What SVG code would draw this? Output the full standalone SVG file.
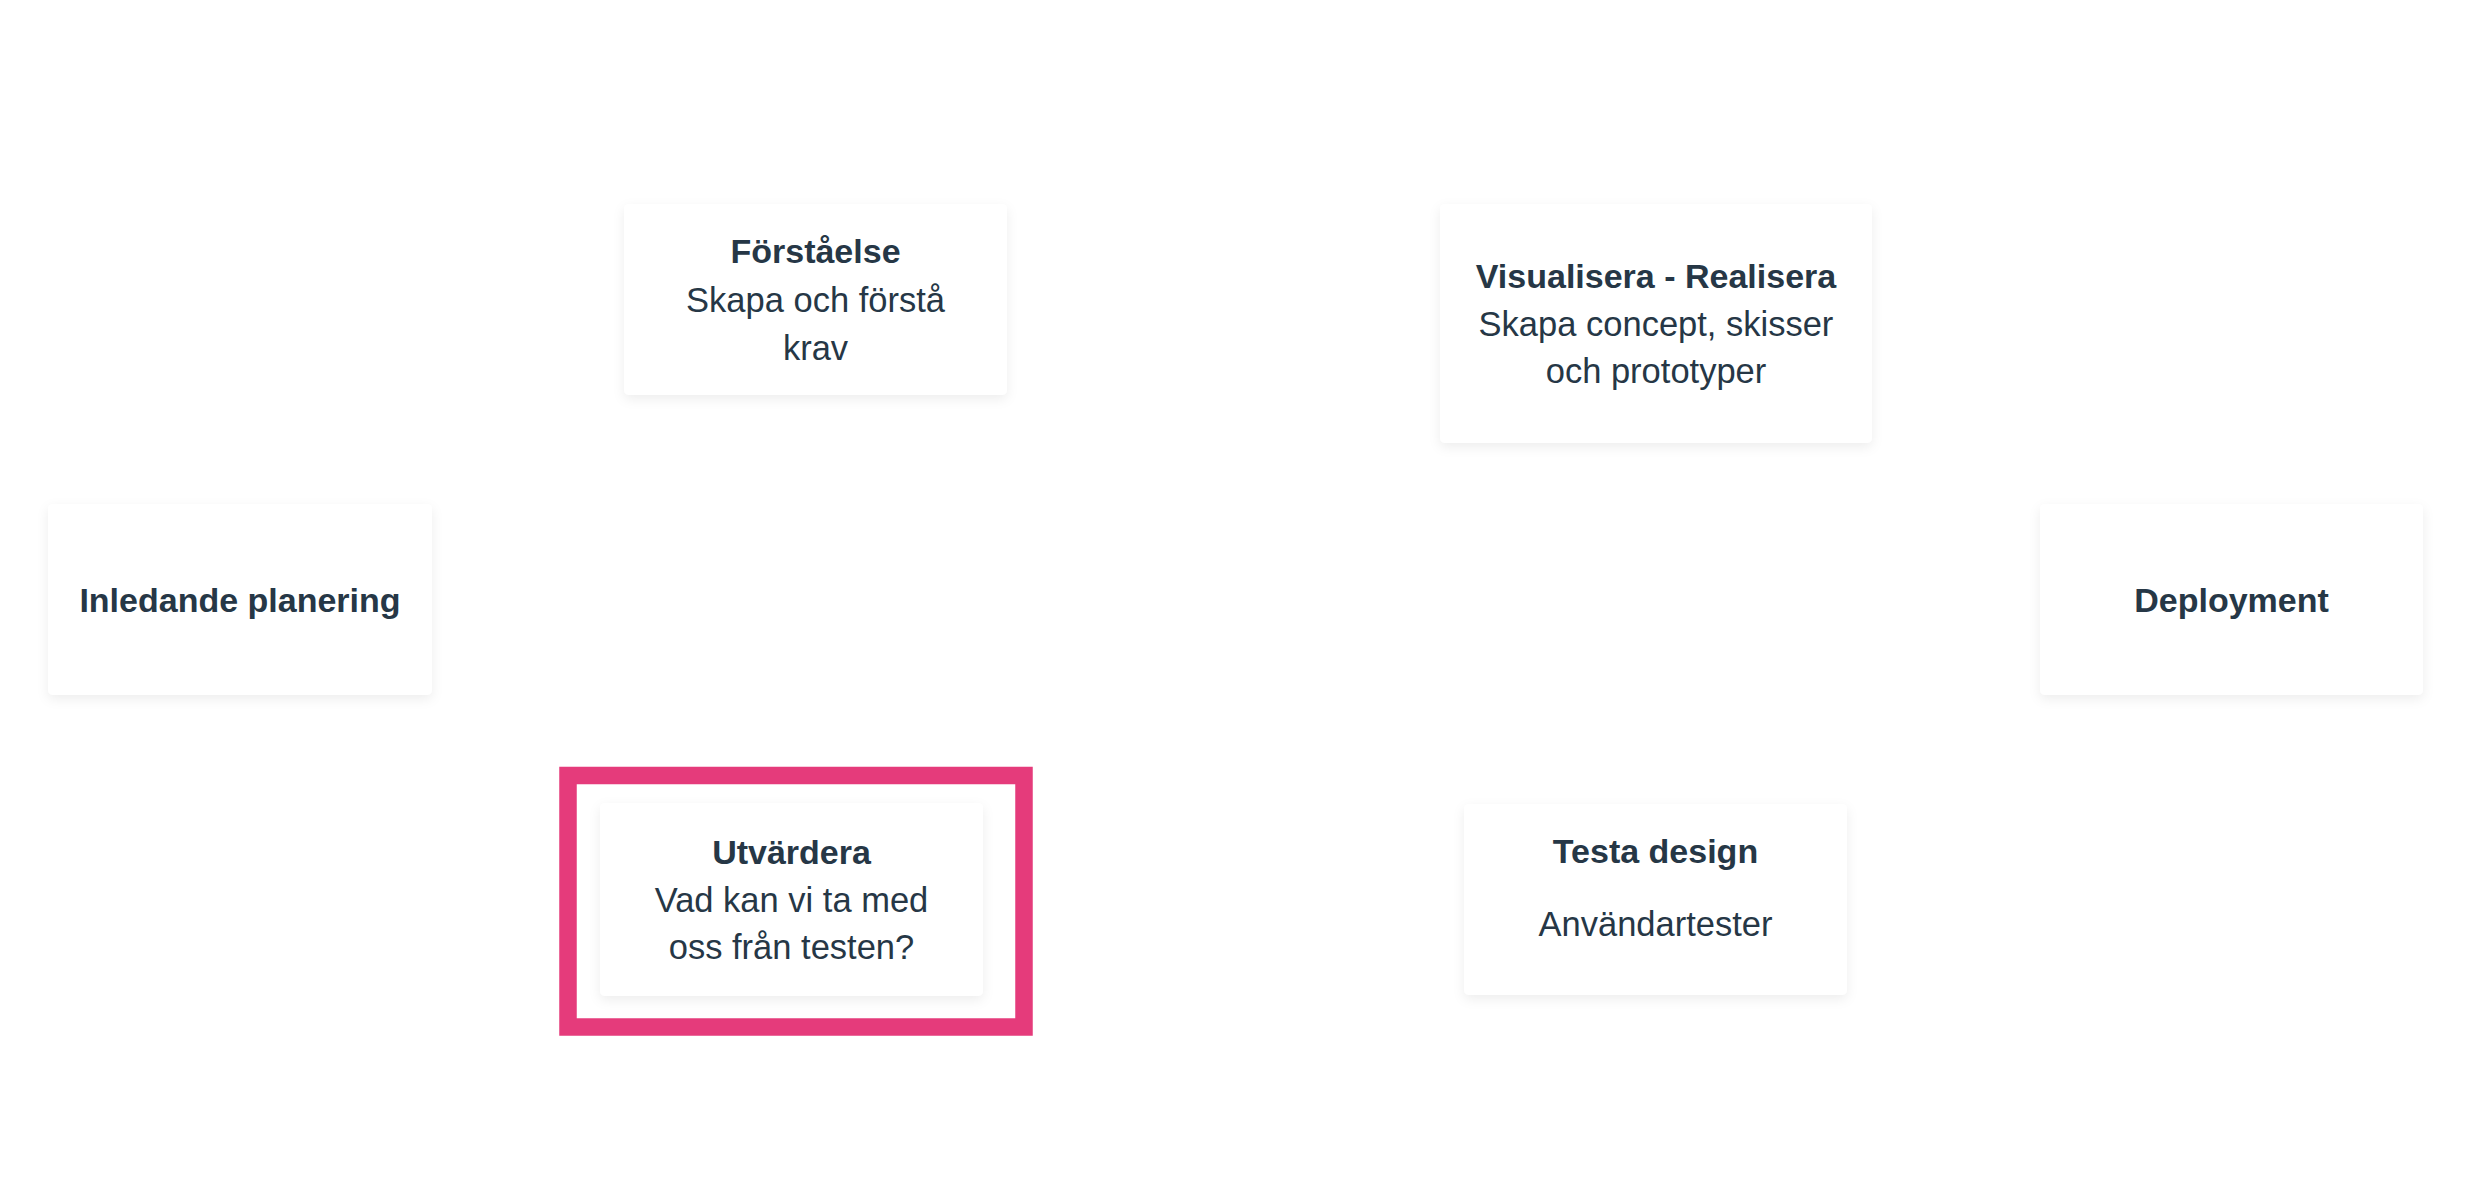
<svg xmlns="http://www.w3.org/2000/svg" width="2472" height="1200" viewBox="0 0 2472 1200">
  <style>
    .card { fill: #ffffff; filter: url(#soft); }
    .title { font-family: "Liberation Sans", Arial, sans-serif; font-weight: 700; font-size: 34px; fill: #263746; text-anchor: middle; }
    .body { font-family: "Liberation Sans", Arial, sans-serif; font-weight: 400; font-size: 34.5px; fill: #263746; text-anchor: middle; }
    .focus { fill: none; stroke: #e53b7b; stroke-width: 17.5; }
  </style>
  <defs>
    <filter id="soft" x="-10%" y="-10%" width="120%" height="130%">
      <feDropShadow dx="0" dy="4" stdDeviation="6" flood-color="#000000" flood-opacity="0.07"/>
    </filter>
  </defs>
  <rect width="2472" height="1200" fill="#ffffff"/>

  <g id="connectors"></g>

  <g id="node-inledande">
    <rect class="card" x="48" y="504" width="384" height="191" rx="5"/>
    <text class="title" x="240" y="612">Inledande planering</text>
  </g>

  <g id="node-forstaelse">
    <rect class="card" x="624" y="204" width="383" height="191" rx="5"/>
    <text class="title" x="815.5" y="263">Förståelse</text>
    <text class="body" x="815.5" y="312">Skapa och förstå</text>
    <text class="body" x="815.5" y="360">krav</text>
  </g>

  <g id="node-visualisera">
    <rect class="card" x="1440" y="204" width="432" height="239" rx="5"/>
    <text class="title" x="1656" y="288">Visualisera - Realisera</text>
    <text class="body" x="1656" y="336">Skapa concept, skisser</text>
    <text class="body" x="1656" y="383">och prototyper</text>
  </g>

  <g id="node-deployment">
    <rect class="card" x="2040" y="504" width="383" height="191" rx="5"/>
    <text class="title" x="2231.5" y="612">Deployment</text>
  </g>

  <g id="node-utvardera">
    <rect class="focus" x="568" y="775.5" width="456" height="251.5"/>
    <rect class="card" x="600" y="803" width="383" height="193" rx="5"/>
    <text class="title" x="791.5" y="864">Utvärdera</text>
    <text class="body" x="791.5" y="912">Vad kan vi ta med</text>
    <text class="body" x="791.5" y="959">oss från testen?</text>
  </g>

  <g id="node-testa">
    <rect class="card" x="1464" y="804" width="383" height="191" rx="5"/>
    <text class="title" x="1655.5" y="863">Testa design</text>
    <text class="body" x="1655.5" y="936">Användartester</text>
  </g>
</svg>
